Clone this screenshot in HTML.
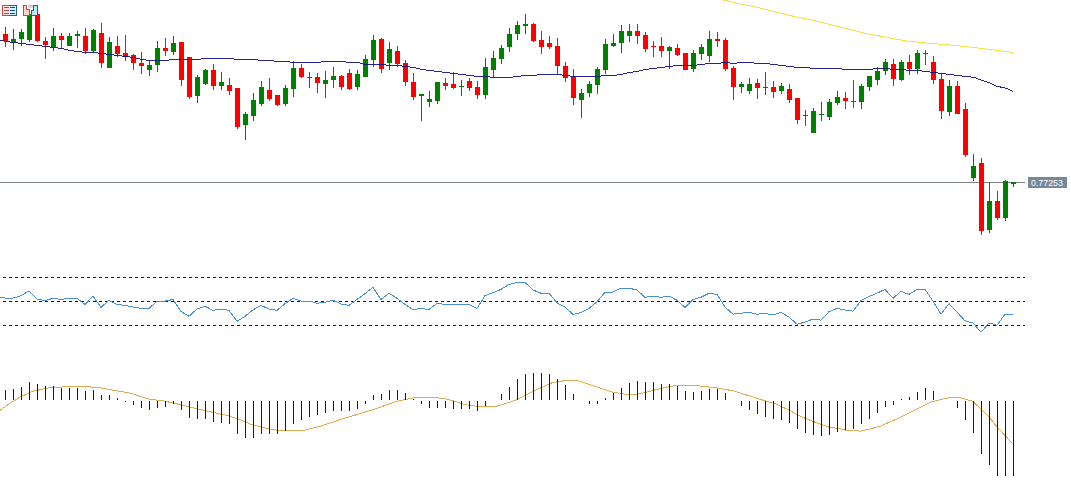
<!DOCTYPE html>
<html><head><meta charset="utf-8">
<style>
html,body{margin:0;padding:0;background:#fff;}
body{width:1071px;height:498px;overflow:hidden;position:relative;font-family:"Liberation Sans",sans-serif;}
svg{position:absolute;left:0;top:0;display:block;}
.lbl{position:absolute;left:1028px;top:177px;width:39px;height:11px;background:#778899;color:#fff;font-size:9.5px;line-height:11px;padding-left:3px;box-sizing:border-box;text-align:left;white-space:nowrap;}
</style></head><body>
<svg width="1071" height="498" viewBox="0 0 1071 498">
<g shape-rendering="crispEdges">
<rect x="0" y="182" width="1025" height="1" fill="#7a8288"/>
<polyline points="722,-0.2 727.5,1 736,3 746,5 756,7 764,9 772,11 780,13 788,15 797,17 807,19 816,21 824,23 832,25 840,27 848,29 856,31 864,33 874,35 885,37 895,39 907,41 926,43 950,45 970,47 986,49 1002,51 1013,52.6" fill="none" stroke="#f0e448" stroke-width="1"/>
<rect x="5" y="27" width="1" height="20" fill="#c42222"/>
<rect x="3" y="34" width="5" height="7" fill="#ff0000"/>
<rect x="13" y="29" width="1" height="21" fill="#008000"/>
<rect x="11" y="39" width="5" height="3" fill="#008000"/>
<rect x="21" y="29" width="1" height="17" fill="#008000"/>
<rect x="19" y="32" width="5" height="7" fill="#008000"/>
<rect x="29" y="14" width="1" height="28" fill="#008000"/>
<rect x="27" y="14" width="5" height="26" fill="#008000"/>
<rect x="37" y="14" width="1" height="28" fill="#c42222"/>
<rect x="35" y="14" width="5" height="27" fill="#ff0000"/>
<rect x="45" y="37" width="1" height="22" fill="#c42222"/>
<rect x="43" y="41" width="5" height="4" fill="#ff0000"/>
<rect x="53" y="28" width="1" height="23" fill="#008000"/>
<rect x="51" y="36" width="5" height="11" fill="#008000"/>
<rect x="61" y="33" width="1" height="15" fill="#c42222"/>
<rect x="59" y="36" width="5" height="4" fill="#ff0000"/>
<rect x="69" y="33" width="1" height="13" fill="#008000"/>
<rect x="67" y="36" width="5" height="10" fill="#008000"/>
<rect x="77" y="31" width="1" height="17" fill="#008000"/>
<rect x="75" y="34" width="5" height="2" fill="#008000"/>
<rect x="85" y="28" width="1" height="26" fill="#c42222"/>
<rect x="83" y="36" width="5" height="15" fill="#ff0000"/>
<rect x="93" y="29" width="1" height="24" fill="#008000"/>
<rect x="91" y="30" width="5" height="21" fill="#008000"/>
<rect x="101" y="23" width="1" height="45" fill="#c42222"/>
<rect x="99" y="33" width="5" height="30" fill="#ff0000"/>
<rect x="109" y="37" width="1" height="31" fill="#008000"/>
<rect x="107" y="42" width="5" height="26" fill="#008000"/>
<rect x="117" y="36" width="1" height="21" fill="#c42222"/>
<rect x="115" y="46" width="5" height="8" fill="#ff0000"/>
<rect x="125" y="35" width="1" height="26" fill="#c42222"/>
<rect x="123" y="53" width="5" height="4" fill="#ff0000"/>
<rect x="133" y="54" width="1" height="16" fill="#c42222"/>
<rect x="131" y="55" width="5" height="8" fill="#ff0000"/>
<rect x="141" y="52" width="1" height="22" fill="#c42222"/>
<rect x="139" y="63" width="5" height="3" fill="#ff0000"/>
<rect x="149" y="61" width="1" height="15" fill="#008000"/>
<rect x="147" y="65" width="5" height="5" fill="#008000"/>
<rect x="157" y="41" width="1" height="31" fill="#008000"/>
<rect x="155" y="48" width="5" height="17" fill="#008000"/>
<rect x="165" y="38" width="1" height="18" fill="#c42222"/>
<rect x="163" y="48" width="5" height="3" fill="#ff0000"/>
<rect x="173" y="36" width="1" height="19" fill="#008000"/>
<rect x="171" y="43" width="5" height="9" fill="#008000"/>
<rect x="181" y="42" width="1" height="44" fill="#c42222"/>
<rect x="179" y="42" width="5" height="38" fill="#ff0000"/>
<rect x="189" y="57" width="1" height="42" fill="#c42222"/>
<rect x="187" y="57" width="5" height="40" fill="#ff0000"/>
<rect x="197" y="75" width="1" height="28" fill="#008000"/>
<rect x="195" y="77" width="5" height="19" fill="#008000"/>
<rect x="205" y="69" width="1" height="16" fill="#008000"/>
<rect x="203" y="70" width="5" height="14" fill="#008000"/>
<rect x="213" y="64" width="1" height="26" fill="#c42222"/>
<rect x="211" y="70" width="5" height="16" fill="#ff0000"/>
<rect x="221" y="72" width="1" height="18" fill="#008000"/>
<rect x="219" y="82" width="5" height="4" fill="#008000"/>
<rect x="229" y="78" width="1" height="17" fill="#c42222"/>
<rect x="227" y="85" width="5" height="6" fill="#ff0000"/>
<rect x="237" y="88" width="1" height="41" fill="#c42222"/>
<rect x="235" y="88" width="5" height="39" fill="#ff0000"/>
<rect x="245" y="112" width="1" height="28" fill="#008000"/>
<rect x="243" y="114" width="5" height="11" fill="#008000"/>
<rect x="253" y="93" width="1" height="28" fill="#008000"/>
<rect x="251" y="100" width="5" height="16" fill="#008000"/>
<rect x="261" y="81" width="1" height="25" fill="#008000"/>
<rect x="259" y="87" width="5" height="17" fill="#008000"/>
<rect x="269" y="78" width="1" height="23" fill="#c42222"/>
<rect x="267" y="90" width="5" height="9" fill="#ff0000"/>
<rect x="277" y="95" width="1" height="11" fill="#c42222"/>
<rect x="275" y="95" width="5" height="10" fill="#ff0000"/>
<rect x="285" y="85" width="1" height="21" fill="#008000"/>
<rect x="283" y="88" width="5" height="16" fill="#008000"/>
<rect x="293" y="61" width="1" height="36" fill="#008000"/>
<rect x="291" y="68" width="5" height="21" fill="#008000"/>
<rect x="301" y="64" width="1" height="14" fill="#c42222"/>
<rect x="299" y="68" width="5" height="9" fill="#ff0000"/>
<rect x="309" y="72" width="1" height="16" fill="#008000"/>
<rect x="307" y="77" width="5" height="1" fill="#008000"/>
<rect x="317" y="73" width="1" height="20" fill="#c42222"/>
<rect x="315" y="77" width="5" height="6" fill="#ff0000"/>
<rect x="325" y="71" width="1" height="27" fill="#008000"/>
<rect x="323" y="80" width="5" height="4" fill="#008000"/>
<rect x="333" y="67" width="1" height="21" fill="#008000"/>
<rect x="331" y="76" width="5" height="4" fill="#008000"/>
<rect x="341" y="75" width="1" height="15" fill="#c42222"/>
<rect x="339" y="76" width="5" height="11" fill="#ff0000"/>
<rect x="349" y="69" width="1" height="21" fill="#c42222"/>
<rect x="347" y="73" width="5" height="16" fill="#ff0000"/>
<rect x="357" y="70" width="1" height="20" fill="#008000"/>
<rect x="355" y="74" width="5" height="13" fill="#008000"/>
<rect x="365" y="55" width="1" height="22" fill="#008000"/>
<rect x="363" y="59" width="5" height="18" fill="#008000"/>
<rect x="373" y="35" width="1" height="32" fill="#008000"/>
<rect x="371" y="40" width="5" height="20" fill="#008000"/>
<rect x="381" y="38" width="1" height="35" fill="#c42222"/>
<rect x="379" y="39" width="5" height="30" fill="#ff0000"/>
<rect x="389" y="42" width="1" height="28" fill="#008000"/>
<rect x="387" y="49" width="5" height="14" fill="#008000"/>
<rect x="397" y="46" width="1" height="21" fill="#c42222"/>
<rect x="395" y="51" width="5" height="13" fill="#ff0000"/>
<rect x="405" y="60" width="1" height="26" fill="#c42222"/>
<rect x="403" y="63" width="5" height="19" fill="#ff0000"/>
<rect x="413" y="73" width="1" height="27" fill="#c42222"/>
<rect x="411" y="82" width="5" height="15" fill="#ff0000"/>
<rect x="421" y="94" width="1" height="27" fill="#008000"/>
<rect x="419" y="94" width="5" height="2" fill="#008000"/>
<rect x="429" y="91" width="1" height="16" fill="#008000"/>
<rect x="427" y="99" width="5" height="3" fill="#008000"/>
<rect x="437" y="82" width="1" height="22" fill="#008000"/>
<rect x="435" y="82" width="5" height="19" fill="#008000"/>
<rect x="445" y="78" width="1" height="12" fill="#c42222"/>
<rect x="443" y="83" width="5" height="3" fill="#ff0000"/>
<rect x="453" y="72" width="1" height="17" fill="#c42222"/>
<rect x="451" y="84" width="5" height="4" fill="#ff0000"/>
<rect x="461" y="80" width="1" height="16" fill="#008000"/>
<rect x="459" y="86" width="5" height="1" fill="#008000"/>
<rect x="469" y="78" width="1" height="13" fill="#c42222"/>
<rect x="467" y="81" width="5" height="7" fill="#ff0000"/>
<rect x="477" y="81" width="1" height="18" fill="#c42222"/>
<rect x="475" y="87" width="5" height="8" fill="#ff0000"/>
<rect x="485" y="58" width="1" height="41" fill="#008000"/>
<rect x="483" y="67" width="5" height="28" fill="#008000"/>
<rect x="493" y="51" width="1" height="26" fill="#008000"/>
<rect x="491" y="58" width="5" height="12" fill="#008000"/>
<rect x="501" y="45" width="1" height="19" fill="#008000"/>
<rect x="499" y="48" width="5" height="11" fill="#008000"/>
<rect x="509" y="28" width="1" height="24" fill="#008000"/>
<rect x="507" y="34" width="5" height="13" fill="#008000"/>
<rect x="517" y="21" width="1" height="19" fill="#008000"/>
<rect x="515" y="25" width="5" height="9" fill="#008000"/>
<rect x="525" y="14" width="1" height="20" fill="#008000"/>
<rect x="523" y="24" width="5" height="2" fill="#008000"/>
<rect x="533" y="23" width="1" height="19" fill="#c42222"/>
<rect x="531" y="24" width="5" height="17" fill="#ff0000"/>
<rect x="541" y="31" width="1" height="23" fill="#c42222"/>
<rect x="539" y="40" width="5" height="7" fill="#ff0000"/>
<rect x="549" y="36" width="1" height="13" fill="#c42222"/>
<rect x="547" y="43" width="5" height="4" fill="#ff0000"/>
<rect x="557" y="38" width="1" height="36" fill="#c42222"/>
<rect x="555" y="46" width="5" height="20" fill="#ff0000"/>
<rect x="565" y="62" width="1" height="20" fill="#c42222"/>
<rect x="563" y="66" width="5" height="12" fill="#ff0000"/>
<rect x="573" y="69" width="1" height="36" fill="#c42222"/>
<rect x="571" y="77" width="5" height="21" fill="#ff0000"/>
<rect x="581" y="89" width="1" height="29" fill="#008000"/>
<rect x="579" y="93" width="5" height="7" fill="#008000"/>
<rect x="589" y="81" width="1" height="16" fill="#008000"/>
<rect x="587" y="84" width="5" height="9" fill="#008000"/>
<rect x="597" y="67" width="1" height="27" fill="#008000"/>
<rect x="595" y="69" width="5" height="16" fill="#008000"/>
<rect x="605" y="39" width="1" height="35" fill="#008000"/>
<rect x="603" y="44" width="5" height="26" fill="#008000"/>
<rect x="613" y="34" width="1" height="13" fill="#008000"/>
<rect x="611" y="43" width="5" height="3" fill="#008000"/>
<rect x="621" y="25" width="1" height="28" fill="#008000"/>
<rect x="619" y="31" width="5" height="12" fill="#008000"/>
<rect x="629" y="24" width="1" height="18" fill="#008000"/>
<rect x="627" y="31" width="5" height="5" fill="#008000"/>
<rect x="637" y="24" width="1" height="20" fill="#c42222"/>
<rect x="635" y="31" width="5" height="5" fill="#ff0000"/>
<rect x="645" y="32" width="1" height="20" fill="#c42222"/>
<rect x="643" y="35" width="5" height="14" fill="#ff0000"/>
<rect x="653" y="41" width="1" height="16" fill="#c42222"/>
<rect x="651" y="46" width="5" height="1" fill="#ff0000"/>
<rect x="661" y="37" width="1" height="20" fill="#c42222"/>
<rect x="659" y="46" width="5" height="5" fill="#ff0000"/>
<rect x="669" y="46" width="1" height="23" fill="#008000"/>
<rect x="667" y="47" width="5" height="4" fill="#008000"/>
<rect x="677" y="44" width="1" height="12" fill="#c42222"/>
<rect x="675" y="48" width="5" height="7" fill="#ff0000"/>
<rect x="685" y="53" width="1" height="17" fill="#c42222"/>
<rect x="683" y="53" width="5" height="17" fill="#ff0000"/>
<rect x="693" y="50" width="1" height="22" fill="#008000"/>
<rect x="691" y="53" width="5" height="16" fill="#008000"/>
<rect x="701" y="44" width="1" height="16" fill="#008000"/>
<rect x="699" y="47" width="5" height="7" fill="#008000"/>
<rect x="709" y="31" width="1" height="31" fill="#008000"/>
<rect x="707" y="39" width="5" height="17" fill="#008000"/>
<rect x="717" y="32" width="1" height="15" fill="#c42222"/>
<rect x="715" y="39" width="5" height="2" fill="#ff0000"/>
<rect x="725" y="38" width="1" height="33" fill="#c42222"/>
<rect x="723" y="40" width="5" height="29" fill="#ff0000"/>
<rect x="733" y="66" width="1" height="34" fill="#c42222"/>
<rect x="731" y="68" width="5" height="19" fill="#ff0000"/>
<rect x="741" y="82" width="1" height="11" fill="#008000"/>
<rect x="739" y="84" width="5" height="3" fill="#008000"/>
<rect x="749" y="78" width="1" height="16" fill="#008000"/>
<rect x="747" y="84" width="5" height="7" fill="#008000"/>
<rect x="757" y="79" width="1" height="20" fill="#c42222"/>
<rect x="755" y="83" width="5" height="5" fill="#ff0000"/>
<rect x="765" y="72" width="1" height="23" fill="#008000"/>
<rect x="763" y="87" width="5" height="1" fill="#008000"/>
<rect x="773" y="81" width="1" height="17" fill="#c42222"/>
<rect x="771" y="87" width="5" height="5" fill="#ff0000"/>
<rect x="781" y="83" width="1" height="11" fill="#008000"/>
<rect x="779" y="86" width="5" height="5" fill="#008000"/>
<rect x="789" y="84" width="1" height="19" fill="#c42222"/>
<rect x="787" y="89" width="5" height="11" fill="#ff0000"/>
<rect x="797" y="98" width="1" height="26" fill="#c42222"/>
<rect x="795" y="98" width="5" height="22" fill="#ff0000"/>
<rect x="805" y="110" width="1" height="16" fill="#c42222"/>
<rect x="803" y="115" width="5" height="1" fill="#ff0000"/>
<rect x="813" y="108" width="1" height="25" fill="#008000"/>
<rect x="811" y="111" width="5" height="22" fill="#008000"/>
<rect x="821" y="102" width="1" height="19" fill="#008000"/>
<rect x="819" y="114" width="5" height="1" fill="#008000"/>
<rect x="829" y="99" width="1" height="21" fill="#008000"/>
<rect x="827" y="102" width="5" height="15" fill="#008000"/>
<rect x="837" y="91" width="1" height="14" fill="#008000"/>
<rect x="835" y="97" width="5" height="6" fill="#008000"/>
<rect x="845" y="92" width="1" height="17" fill="#c42222"/>
<rect x="843" y="98" width="5" height="3" fill="#ff0000"/>
<rect x="853" y="80" width="1" height="28" fill="#c42222"/>
<rect x="851" y="101" width="5" height="1" fill="#ff0000"/>
<rect x="861" y="84" width="1" height="25" fill="#008000"/>
<rect x="859" y="86" width="5" height="16" fill="#008000"/>
<rect x="869" y="76" width="1" height="15" fill="#008000"/>
<rect x="867" y="76" width="5" height="11" fill="#008000"/>
<rect x="877" y="67" width="1" height="18" fill="#008000"/>
<rect x="875" y="71" width="5" height="9" fill="#008000"/>
<rect x="885" y="59" width="1" height="16" fill="#008000"/>
<rect x="883" y="62" width="5" height="9" fill="#008000"/>
<rect x="893" y="59" width="1" height="27" fill="#c42222"/>
<rect x="891" y="64" width="5" height="15" fill="#ff0000"/>
<rect x="901" y="60" width="1" height="21" fill="#008000"/>
<rect x="899" y="62" width="5" height="18" fill="#008000"/>
<rect x="909" y="55" width="1" height="20" fill="#c42222"/>
<rect x="907" y="62" width="5" height="7" fill="#ff0000"/>
<rect x="917" y="50" width="1" height="24" fill="#008000"/>
<rect x="915" y="53" width="5" height="16" fill="#008000"/>
<rect x="925" y="50" width="1" height="15" fill="#c42222"/>
<rect x="923" y="53" width="5" height="1" fill="#ff0000"/>
<rect x="933" y="56" width="1" height="28" fill="#c42222"/>
<rect x="931" y="62" width="5" height="18" fill="#ff0000"/>
<rect x="941" y="74" width="1" height="45" fill="#c42222"/>
<rect x="939" y="79" width="5" height="32" fill="#ff0000"/>
<rect x="949" y="80" width="1" height="36" fill="#008000"/>
<rect x="947" y="86" width="5" height="26" fill="#008000"/>
<rect x="957" y="81" width="1" height="33" fill="#c42222"/>
<rect x="955" y="86" width="5" height="28" fill="#ff0000"/>
<rect x="965" y="103" width="1" height="54" fill="#c42222"/>
<rect x="963" y="109" width="5" height="46" fill="#ff0000"/>
<rect x="973" y="154" width="1" height="27" fill="#008000"/>
<rect x="971" y="166" width="5" height="12" fill="#008000"/>
<rect x="981" y="158" width="1" height="77" fill="#c42222"/>
<rect x="979" y="163" width="5" height="68" fill="#ff0000"/>
<rect x="989" y="182" width="1" height="51" fill="#008000"/>
<rect x="987" y="201" width="5" height="29" fill="#008000"/>
<rect x="997" y="191" width="1" height="29" fill="#c42222"/>
<rect x="995" y="201" width="5" height="17" fill="#ff0000"/>
<rect x="1005" y="180" width="1" height="41" fill="#008000"/>
<rect x="1003" y="181" width="5" height="37" fill="#008000"/>
<rect x="1013" y="182" width="1" height="5" fill="#008000"/>
<rect x="1011" y="182" width="5" height="2" fill="#008000"/>
<g fill="#0c0c8a" fill-opacity="0.9"><rect x="0" y="40" width="4" height="1"/><rect x="4" y="41" width="6" height="1"/><rect x="10" y="42" width="8" height="1"/><rect x="18" y="43" width="8" height="1"/><rect x="26" y="44" width="8" height="1"/><rect x="34" y="45" width="8" height="1"/><rect x="42" y="46" width="8" height="1"/><rect x="50" y="47" width="8" height="1"/><rect x="58" y="48" width="6" height="1"/><rect x="64" y="49" width="4" height="1"/><rect x="68" y="50" width="6" height="1"/><rect x="74" y="51" width="8" height="1"/><rect x="82" y="52" width="16" height="1"/><rect x="98" y="53" width="8" height="1"/><rect x="106" y="54" width="8" height="1"/><rect x="114" y="55" width="8" height="1"/><rect x="122" y="56" width="8" height="1"/><rect x="130" y="57" width="6" height="1"/><rect x="136" y="58" width="4" height="1"/><rect x="140" y="59" width="6" height="1"/><rect x="146" y="60" width="23" height="1"/><rect x="169" y="59" width="32" height="1"/><rect x="201" y="58" width="33" height="1"/><rect x="234" y="59" width="24" height="1"/><rect x="258" y="60" width="16" height="1"/><rect x="274" y="61" width="16" height="1"/><rect x="290" y="62" width="31" height="1"/><rect x="321" y="61" width="25" height="1"/><rect x="346" y="62" width="14" height="1"/><rect x="360" y="63" width="3" height="1"/><rect x="363" y="64" width="23" height="1"/><rect x="386" y="65" width="16" height="1"/><rect x="402" y="66" width="8" height="1"/><rect x="410" y="67" width="6" height="1"/><rect x="416" y="68" width="4" height="1"/><rect x="420" y="69" width="6" height="1"/><rect x="426" y="70" width="8" height="1"/><rect x="434" y="71" width="8" height="1"/><rect x="442" y="72" width="8" height="1"/><rect x="450" y="73" width="8" height="1"/><rect x="458" y="74" width="8" height="1"/><rect x="466" y="75" width="8" height="1"/><rect x="474" y="76" width="16" height="1"/><rect x="490" y="77" width="23" height="1"/><rect x="513" y="76" width="8" height="1"/><rect x="521" y="75" width="16" height="1"/><rect x="537" y="74" width="25" height="1"/><rect x="562" y="75" width="8" height="1"/><rect x="570" y="76" width="31" height="1"/><rect x="601" y="75" width="16" height="1"/><rect x="617" y="74" width="6" height="1"/><rect x="623" y="73" width="4" height="1"/><rect x="627" y="72" width="6" height="1"/><rect x="633" y="71" width="6" height="1"/><rect x="639" y="70" width="4" height="1"/><rect x="643" y="69" width="6" height="1"/><rect x="649" y="68" width="8" height="1"/><rect x="657" y="67" width="8" height="1"/><rect x="665" y="66" width="8" height="1"/><rect x="673" y="65" width="24" height="1"/><rect x="697" y="64" width="8" height="1"/><rect x="705" y="63" width="16" height="1"/><rect x="721" y="62" width="9" height="1"/><rect x="730" y="63" width="7" height="1"/><rect x="737" y="62" width="17" height="1"/><rect x="754" y="63" width="16" height="1"/><rect x="770" y="64" width="8" height="1"/><rect x="778" y="65" width="8" height="1"/><rect x="786" y="66" width="8" height="1"/><rect x="794" y="67" width="16" height="1"/><rect x="810" y="68" width="32" height="1"/><rect x="842" y="69" width="31" height="1"/><rect x="873" y="68" width="17" height="1"/><rect x="890" y="69" width="16" height="1"/><rect x="906" y="70" width="16" height="1"/><rect x="922" y="71" width="8" height="1"/><rect x="930" y="72" width="8" height="1"/><rect x="938" y="73" width="8" height="1"/><rect x="946" y="74" width="8" height="1"/><rect x="954" y="75" width="8" height="1"/><rect x="962" y="76" width="9" height="1"/><rect x="971" y="77" width="4" height="1"/></g>
<polyline points="974.5,77.5 979,79.4 985,81.2 991,83.5 997,86.3 1003,87.5 1009,89.3 1013,91.6" fill="none" stroke="#0c0c8a" stroke-width="1" stroke-opacity="0.9"/>
</g>
<g shape-rendering="crispEdges">
<line x1="3" y1="277.5" x2="1025" y2="277.5" stroke="#10103a" stroke-width="1" stroke-dasharray="3 3"/>
<line x1="3" y1="301.5" x2="1025" y2="301.5" stroke="#10103a" stroke-width="1" stroke-dasharray="3 3"/>
<line x1="3" y1="325.5" x2="1025" y2="325.5" stroke="#10103a" stroke-width="1" stroke-dasharray="3 3"/>
<polyline points="0,297 5,298 13,298 21,295.8 29,291 37,299 45,300.6 53,298.3 61,299.5 69,298.3 77,298.3 85,304.5 93,296.1 101,307.4 109,300.3 117,304.5 125,305.3 133,307 141,308.4 149,308.4 157,301.1 165,301.1 173,299.5 181,311.5 189,316.3 197,309 205,306.2 213,310.4 221,309 229,310.4 237,321.3 245,316.3 253,309.8 261,305.5 269,309 277,310.4 285,303.6 293,298.5 301,301 309,301 317,303.2 325,302.3 333,300.3 341,304 349,305.3 357,299.5 365,293.6 373,287.4 381,299.5 389,293.2 397,298.3 405,304.5 413,309.5 421,308.4 429,309.5 437,303.3 445,304.5 453,304.5 461,304.5 469,304.5 477,308.4 485,295.6 493,292.7 501,289.4 509,284.5 517,282.4 525,282.4 533,290 541,293.2 549,293.2 557,302.8 565,307 573,314.5 581,312.4 589,308.4 597,301.8 605,292.3 613,292.2 621,288.2 629,288.2 637,290 645,297.3 653,296.1 661,297.3 669,296.1 677,300.3 685,307.4 693,299.5 701,297.3 709,293.2 717,294.4 725,307 733,314.1 741,313.2 749,312.4 757,314.2 765,313.2 773,315.1 781,312.4 789,317.1 797,324.2 805,322.1 813,319.1 821,320.1 829,311.7 837,308.4 845,310 853,311.2 861,300.6 869,296.6 877,293.2 885,289.4 893,298.3 901,291.4 909,294.4 917,289.4 925,289.4 933,301.1 941,314.2 949,303.7 957,312.1 965,320.8 973,323 981,332.2 989,323 997,325.2 1005,314.2 1013,314.2" fill="none" stroke="#4590d6" stroke-width="1"/>
</g>
<g shape-rendering="crispEdges">
<polyline points="0,410.3 8.4,404.5 20.2,396.9 33.6,391 50.4,387.6 75.6,386.3 97.5,387.3 117.6,391 130,393.1 147.9,398.9 163.7,401 175.5,403.5 190.6,407.2 207.4,411.1 227.6,415.6 237.6,418.7 251.1,424.5 267.9,428.7 281.3,430.9 301.8,430.9 320.3,426.2 338.7,420 357.2,414.5 377.4,408.2 397.6,401 417.7,397.1 432.9,397.1 448,399.3 465,404.5 481.8,407 495.3,406.7 515.4,400.3 535.6,390.2 552.4,382.6 565.8,380.5 579.3,381 596.1,386.8 612.9,392.2 626.3,394.4 639.8,393.9 656.8,389.4 675.3,385.5 695.5,385.5 715.6,387.7 734.1,391 757.6,398.6 774.5,403.5 789.4,410.2 797.5,415 805.4,418.4 813.4,421.6 821.5,424.6 829.4,427.3 837.4,428.3 845.5,430.1 860.3,431.1 869.4,429.1 880,426.3 897.6,418.7 917.7,408.6 931.2,401.9 940,399.7 950.1,397.5 960.1,397.7 972.2,401.1 981.2,409.1 989.2,417.1 997.3,427.2 1005.3,435.8 1012.3,443.3" fill="none" stroke="#dcac55" stroke-width="1"/>
</g>
<g shape-rendering="crispEdges" fill="#0c0c8a">
<rect x="5" y="390" width="1" height="10"/>
<rect x="13" y="389" width="1" height="11"/>
<rect x="21" y="387" width="1" height="13"/>
<rect x="29" y="382" width="1" height="18"/>
<rect x="37" y="384" width="1" height="16"/>
<rect x="45" y="386" width="1" height="14"/>
<rect x="53" y="386" width="1" height="14"/>
<rect x="61" y="388" width="1" height="12"/>
<rect x="69" y="388" width="1" height="12"/>
<rect x="77" y="388" width="1" height="12"/>
<rect x="85" y="391" width="1" height="9"/>
<rect x="93" y="390" width="1" height="10"/>
<rect x="101" y="395" width="1" height="5"/>
<rect x="109" y="395" width="1" height="5"/>
<rect x="117" y="398" width="1" height="2"/>
<rect x="125" y="401" width="1" height="1"/>
<rect x="133" y="401" width="1" height="4"/>
<rect x="141" y="401" width="1" height="7"/>
<rect x="149" y="401" width="1" height="9"/>
<rect x="157" y="401" width="1" height="7"/>
<rect x="165" y="401" width="1" height="6"/>
<rect x="173" y="401" width="1" height="3"/>
<rect x="181" y="401" width="1" height="9"/>
<rect x="189" y="401" width="1" height="17"/>
<rect x="197" y="401" width="1" height="18"/>
<rect x="205" y="401" width="1" height="18"/>
<rect x="213" y="401" width="1" height="21"/>
<rect x="221" y="401" width="1" height="22"/>
<rect x="229" y="401" width="1" height="23"/>
<rect x="237" y="401" width="1" height="33"/>
<rect x="245" y="401" width="1" height="37"/>
<rect x="253" y="401" width="1" height="37"/>
<rect x="261" y="401" width="1" height="33"/>
<rect x="269" y="401" width="1" height="33"/>
<rect x="277" y="401" width="1" height="33"/>
<rect x="285" y="401" width="1" height="30"/>
<rect x="293" y="401" width="1" height="23"/>
<rect x="301" y="401" width="1" height="19"/>
<rect x="309" y="401" width="1" height="16"/>
<rect x="317" y="401" width="1" height="14"/>
<rect x="325" y="401" width="1" height="12"/>
<rect x="333" y="401" width="1" height="10"/>
<rect x="341" y="401" width="1" height="10"/>
<rect x="349" y="401" width="1" height="10"/>
<rect x="357" y="401" width="1" height="8"/>
<rect x="365" y="401" width="1" height="3"/>
<rect x="373" y="395" width="1" height="5"/>
<rect x="381" y="394" width="1" height="6"/>
<rect x="389" y="390" width="1" height="10"/>
<rect x="397" y="390" width="1" height="10"/>
<rect x="405" y="393" width="1" height="7"/>
<rect x="413" y="399" width="1" height="1"/>
<rect x="421" y="401" width="1" height="3"/>
<rect x="429" y="401" width="1" height="7"/>
<rect x="437" y="401" width="1" height="7"/>
<rect x="445" y="401" width="1" height="7"/>
<rect x="453" y="401" width="1" height="8"/>
<rect x="461" y="401" width="1" height="8"/>
<rect x="469" y="401" width="1" height="8"/>
<rect x="477" y="401" width="1" height="10"/>
<rect x="485" y="401" width="1" height="5"/>
<rect x="501" y="394" width="1" height="6"/>
<rect x="509" y="387" width="1" height="13"/>
<rect x="517" y="379" width="1" height="21"/>
<rect x="525" y="374" width="1" height="26"/>
<rect x="533" y="373" width="1" height="27"/>
<rect x="541" y="373" width="1" height="27"/>
<rect x="549" y="374" width="1" height="26"/>
<rect x="557" y="379" width="1" height="21"/>
<rect x="565" y="385" width="1" height="15"/>
<rect x="573" y="394" width="1" height="6"/>
<rect x="589" y="401" width="1" height="3"/>
<rect x="597" y="401" width="1" height="3"/>
<rect x="605" y="398" width="1" height="2"/>
<rect x="613" y="393" width="1" height="7"/>
<rect x="621" y="388" width="1" height="12"/>
<rect x="629" y="383" width="1" height="17"/>
<rect x="637" y="381" width="1" height="19"/>
<rect x="645" y="382" width="1" height="18"/>
<rect x="653" y="382" width="1" height="18"/>
<rect x="661" y="384" width="1" height="16"/>
<rect x="669" y="384" width="1" height="16"/>
<rect x="677" y="386" width="1" height="14"/>
<rect x="685" y="391" width="1" height="9"/>
<rect x="693" y="392" width="1" height="8"/>
<rect x="701" y="391" width="1" height="9"/>
<rect x="709" y="389" width="1" height="11"/>
<rect x="717" y="389" width="1" height="11"/>
<rect x="725" y="393" width="1" height="7"/>
<rect x="741" y="401" width="1" height="5"/>
<rect x="749" y="401" width="1" height="9"/>
<rect x="757" y="401" width="1" height="13"/>
<rect x="765" y="401" width="1" height="16"/>
<rect x="773" y="401" width="1" height="18"/>
<rect x="781" y="401" width="1" height="19"/>
<rect x="789" y="401" width="1" height="22"/>
<rect x="797" y="401" width="1" height="28"/>
<rect x="805" y="401" width="1" height="32"/>
<rect x="813" y="401" width="1" height="34"/>
<rect x="821" y="401" width="1" height="35"/>
<rect x="829" y="401" width="1" height="34"/>
<rect x="837" y="401" width="1" height="31"/>
<rect x="845" y="401" width="1" height="29"/>
<rect x="853" y="401" width="1" height="28"/>
<rect x="861" y="401" width="1" height="23"/>
<rect x="869" y="401" width="1" height="18"/>
<rect x="877" y="401" width="1" height="12"/>
<rect x="885" y="401" width="1" height="6"/>
<rect x="893" y="401" width="1" height="4"/>
<rect x="901" y="399" width="1" height="1"/>
<rect x="909" y="397" width="1" height="3"/>
<rect x="917" y="392" width="1" height="8"/>
<rect x="925" y="388" width="1" height="12"/>
<rect x="933" y="391" width="1" height="9"/>
<rect x="957" y="401" width="1" height="7"/>
<rect x="965" y="401" width="1" height="19"/>
<rect x="973" y="401" width="1" height="32"/>
<rect x="981" y="401" width="1" height="53"/>
<rect x="989" y="401" width="1" height="64"/>
<rect x="997" y="401" width="1" height="75"/>
<rect x="1005" y="401" width="1" height="75"/>
<rect x="1013" y="401" width="1" height="75"/>
</g>
<!-- icons -->
<g shape-rendering="crispEdges">
<rect x="3" y="6" width="6" height="9" fill="#fde4e0"/>
<rect x="9" y="6" width="7" height="9" fill="#d4f2fc"/>
<path d="M9 5.5 H2.5 V15.5 H9" fill="none" stroke="#b85050"/>
<path d="M9 5.5 H16.5 V15.5 H9" fill="none" stroke="#2a5a90"/>
<rect x="4" y="7" width="5" height="1" fill="#b04a40"/>
<rect x="4" y="10" width="5" height="1" fill="#b04a40"/>
<rect x="4" y="13" width="5" height="1" fill="#b04a40"/>
<rect x="10" y="7" width="5" height="1" fill="#1a4a80"/>
<rect x="10" y="10" width="5" height="1" fill="#1a4a80"/>
<rect x="10" y="13" width="5" height="1" fill="#1a4a80"/>
<path d="M23.5 5.5 H26.5 V9.5 H29.5 V15.5 H23.5 Z" fill="#fcd8cc" stroke="#b85050"/>
<path d="M31.5 10.5 H33.5 V5.5 H37.5 V15.5 H31.5 Z" fill="#bfe4fa" stroke="#2a5a90"/>
<rect x="28.5" y="5.5" width="4" height="1.6" rx="0.8" fill="#fff" stroke="#a8a8a8" shape-rendering="auto"/>
</g>
</svg>
<div class="lbl"><span style="display:inline-block;transform:scaleX(0.93);transform-origin:0 50%;">0.77253</span></div>
</body></html>
